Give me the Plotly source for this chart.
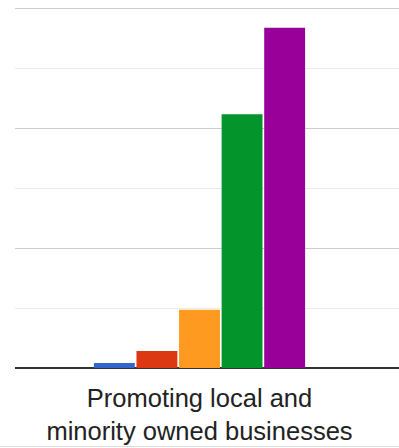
import plotly.graph_objects as go

category = "Promoting local and<br>minority owned businesses"
series_names = ["Series 1", "Series 2", "Series 3", "Series 4", "Series 5"]
series_values = [0.85, 2.85, 9.7, 42.3, 56.7]
series_colors = ["#3366cc", "#dc3912", "#fe9a1f", "#03952b", "#990099"]

fig = go.Figure()
for name, val, col in zip(series_names, series_values, series_colors):
    fig.add_trace(go.Bar(
        x=[category], y=[val], name=name,
        marker=dict(color=col, line=dict(width=0)),
        hoverinfo="skip",
    ))

fig.update_layout(
    width=399, height=448,
    margin=dict(l=15, r=0, t=0, b=80),
    paper_bgcolor="white", plot_bgcolor="white",
    barmode="group", bargap=0.423, bargroupgap=0.04,
    showlegend=False,
    font=dict(family="Liberation Sans, Arial, sans-serif", color="#222222"),
)
fig.update_xaxes(
    type="category", range=[-0.5, 0.5407],
    showgrid=False, showline=False, ticks="",
    tickfont=dict(size=25.5, color="#222222"),
    ticklabelstandoff=12,
)
fig.update_yaxes(
    range=[0, 368 / 6], tickvals=[0, 20, 40, 60], showticklabels=False,
    gridcolor="#cccccc", gridwidth=1,
    minor=dict(tickvals=[10, 30, 50], showgrid=True, gridcolor="#ebebeb", gridwidth=1),
    zeroline=True, zerolinecolor="#333333", zerolinewidth=2,
    showline=False, ticks="",
)
fig.add_shape(type="line", xref="paper", yref="paper",
              x0=-15/384, x1=1, y0=-78.5/368, y1=-78.5/368,
              line=dict(color="#dddddd", width=1))

fig.write_html("out.html")
